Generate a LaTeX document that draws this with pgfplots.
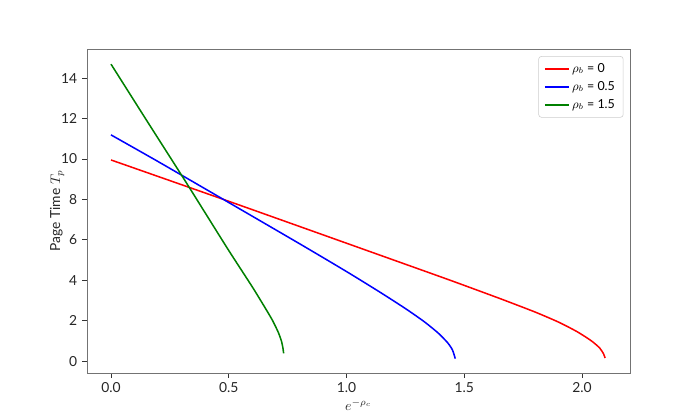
\documentclass[border=0pt]{standalone}
\usepackage{fontspec}
\setmainfont{Lato}
\usepackage{pgfplots}
\pgfplotsset{compat=1.18}

\begin{document}
\begin{tikzpicture}
\begin{axis}[
    at={(0,0)}, anchor=south west,
    scale only axis,
    width=5.43in, height=3.24in,
    xmin=-0.102, xmax=2.204,
    ymin=-0.59, ymax=15.44,
    xtick={0,0.5,1.0,1.5,2.0},
    ytick={0,2,4,6,8,10,12,14},
    xticklabel style={/pgf/number format/.cd, fixed, fixed zerofill, precision=1},
    /pgf/number format/assume math mode=true,
    tick align=outside, tick pos=left,
    major tick length=3.5pt,
    every tick/.style={black!80, line width=0.6pt},
    axis line style={black!55, line width=0.6pt},
    ticklabel style={font=\fontsize{10}{12}\selectfont, text=black!85},
    label style={font=\fontsize{10}{12}\selectfont, text=black!85},
    xlabel={$e^{-\rho_c}$},
    ylabel={Page Time $T_p$},
    xlabel shift=-2pt,
    ylabel shift=-9pt,
    legend style={at={(0.988,0.978)}, anchor=north east, draw=black!20,
        rounded corners=2pt, font=\fontsize{9}{11}\selectfont, row sep=1pt,
        inner xsep=4pt, inner ysep=3pt},
    legend cell align=left,
    legend image post style={line width=1.1pt},
]
% rho_b = 0
\addplot[red, line width=1.1pt, smooth, tension=0.4] coordinates {
(0,9.95) (0.477,8.0) (0.803,6.65) (1.2,5.0) (1.44,4.0) (1.65,3.1)
(1.8,2.43) (1.9,1.93) (1.98,1.45) (2.04,1.0) (2.075,0.65) (2.092,0.35)
(2.098,0.15)
};
% rho_b = 0.5
\addplot[blue, line width=1.1pt, smooth, tension=0.4] coordinates {
(0,11.19) (0.2,9.87) (0.477,8.0) (0.803,5.79) (1.0,4.43) (1.142,3.41)
(1.25,2.6) (1.33,1.95) (1.39,1.38) (1.43,0.9) (1.45,0.55) (1.462,0.12)
};
% rho_b = 1.5
\addplot[green!50!black, line width=1.1pt, smooth, tension=0.4] coordinates {
(0,14.69) (0.15,11.93) (0.307,9.06) (0.4,7.33) (0.5,5.47) (0.6,3.67)
(0.65,2.72) (0.685,2.03) (0.71,1.43) (0.724,0.98) (0.730,0.65) (0.733,0.38)
};
\legend{$\rho_b$ = 0, $\rho_b$ = 0.5, $\rho_b$ = 1.5}
\end{axis}
\path (-0.87in,-0.47in) rectangle (6.13in,3.73in);
\end{tikzpicture}
\end{document}
